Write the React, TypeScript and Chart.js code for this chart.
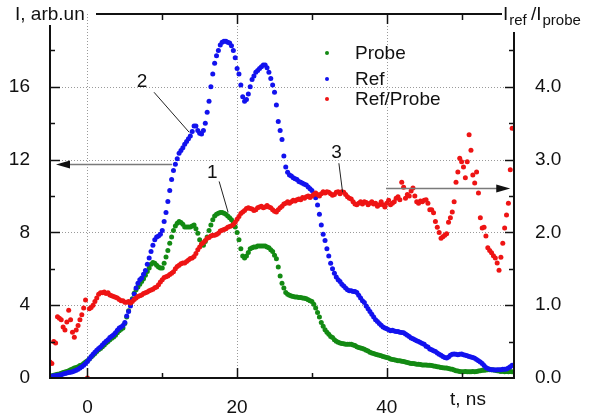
import React, { useEffect, useRef } from "react";
import { Chart, registerables } from "chart.js";

Chart.register(...registerables);

// ---- data ----
const T_START = -5; // ns
const T_STEP = 0.25; // ns

// Probe signal, arb. units (left axis)
const PROBE = [
  0.10, 0.12, 0.15, 0.18, 0.20, 0.22, 0.26, 0.30, 0.33, 0.36, 0.40, 0.45,
  0.50, 0.55, 0.58, 0.62, 0.68, 0.72, 0.80, 0.88, 0.95, 1.05, 1.15, 1.25,
  1.35, 1.45, 1.55, 1.62, 1.72, 1.82, 1.92, 2.00, 2.10, 2.18, 2.25, 2.35,
  2.48, 2.60, 2.68, 2.75, 3.00, 3.35, 3.70, 4.05, 4.35, 4.65, 4.85, 5.00,
  5.15, 5.30, 5.45, 5.65, 5.85, 6.05, 6.25, 6.35, 6.30, 6.20, 6.10, 6.05,
  6.05, 6.30, 6.65, 7.00, 7.40, 7.75, 8.10, 8.35, 8.50, 8.60, 8.55, 8.45,
  8.30, 8.30, 8.30, 8.30, 8.35, 8.40, 8.20, 7.95, 7.60, 7.35, 7.30, 7.50,
  7.75, 8.10, 8.40, 8.70, 8.90, 9.00, 9.05, 9.10, 9.10, 9.05, 9.00, 8.90,
  8.80, 8.70, 8.55, 8.30, 8.00, 7.60, 7.10, 6.70, 6.60, 6.70, 6.90, 7.10,
  7.15, 7.20, 7.20, 7.25, 7.25, 7.25, 7.25, 7.25, 7.20, 7.15, 7.05, 6.95,
  6.75, 6.55, 6.10, 5.60, 5.20, 4.95, 4.70, 4.60, 4.55, 4.50, 4.48, 4.45,
  4.45, 4.42, 4.42, 4.40, 4.38, 4.35, 4.30, 4.25, 4.20, 4.05, 3.85, 3.60,
  3.35, 3.05, 2.85, 2.65, 2.52, 2.40, 2.28, 2.22, 2.10, 2.02, 1.96, 1.92,
  1.90, 1.88, 1.86, 1.85, 1.85, 1.85, 1.82, 1.78, 1.72, 1.68, 1.65, 1.62,
  1.58, 1.52, 1.48, 1.42, 1.38, 1.35, 1.30, 1.28, 1.25, 1.22, 1.18, 1.15,
  1.12, 1.10, 1.05, 1.02, 1.00, 0.98, 0.95, 0.95, 0.92, 0.90, 0.88, 0.85,
  0.82, 0.80, 0.80, 0.78, 0.76, 0.75, 0.74, 0.72, 0.72, 0.72, 0.70, 0.70,
  0.68, 0.66, 0.65, 0.62, 0.60, 0.58, 0.57, 0.55, 0.55, 0.52, 0.50, 0.48,
  0.44, 0.40, 0.38, 0.36, 0.35, 0.35, 0.36, 0.35, 0.34, 0.35, 0.36, 0.35,
  0.36, 0.38, 0.40, 0.42, 0.42, 0.44, 0.45, 0.46, 0.45, 0.44, 0.42, 0.40,
  0.38, 0.36, 0.37, 0.35, 0.36, 0.35, 0.36, 0.35,
];

// Reference signal, arb. units (left axis)
const REF = [
  0.10, 0.10, 0.12, 0.13, 0.15, 0.16, 0.18, 0.22, 0.25, 0.27, 0.30, 0.32,
  0.35, 0.38, 0.42, 0.48, 0.55, 0.62, 0.70, 0.80, 0.90, 1.05, 1.18, 1.30,
  1.42, 1.52, 1.62, 1.70, 1.82, 1.92, 2.02, 2.10, 2.22, 2.30, 2.38, 2.48,
  2.62, 2.75, 2.80, 2.88, 3.05, 3.40, 3.65, 3.95, 4.30, 4.62, 4.95, 5.20,
  5.40, 5.50, 5.70, 5.90, 6.25, 6.60, 6.95, 7.30, 7.60, 7.75, 7.80, 7.90,
  8.10, 8.60, 9.10, 9.70, 10.30, 10.90, 11.40, 11.75, 12.05, 12.35, 12.50, 12.65,
  12.85, 13.00, 13.15, 13.30, 13.55, 13.85, 13.85, 13.60, 13.45, 13.40, 13.60, 14.00,
  14.60, 15.20, 16.00, 16.70, 17.30, 17.70, 18.00, 18.30, 18.45, 18.50, 18.50, 18.45,
  18.40, 18.25, 18.00, 17.60, 17.00, 16.70, 16.10, 15.45, 15.20, 15.30, 15.60, 16.00,
  16.40, 16.60, 16.80, 16.90, 17.00, 17.10, 17.20, 17.20, 17.05, 16.80, 16.45, 16.10,
  15.70, 15.00, 14.10, 13.60, 13.10, 12.20, 11.60, 11.30, 11.15, 11.10, 11.00, 10.95,
  10.90, 10.80, 10.75, 10.70, 10.65, 10.60, 10.50, 10.40, 10.30, 10.10, 9.90, 9.50,
  9.00, 8.40, 7.90, 7.55, 7.10, 6.70, 6.30, 6.00, 5.75, 5.55, 5.40, 5.30,
  5.15, 5.05, 4.95, 4.85, 4.80, 4.80, 4.75, 4.75, 4.70, 4.55, 4.40, 4.25,
  4.15, 3.95, 3.80, 3.65, 3.50, 3.35, 3.20, 3.10, 3.00, 2.90, 2.80, 2.75,
  2.70, 2.65, 2.60, 2.62, 2.58, 2.55, 2.55, 2.52, 2.50, 2.48, 2.42, 2.35,
  2.28, 2.20, 2.15, 2.10, 2.05, 2.00, 1.95, 1.90, 1.85, 1.75, 1.70, 1.60,
  1.55, 1.50, 1.45, 1.38, 1.30, 1.25, 1.18, 1.12, 1.10, 1.15, 1.25, 1.30,
  1.32, 1.30, 1.28, 1.30, 1.32, 1.28, 1.25, 1.22, 1.18, 1.15, 1.12, 1.08,
  1.02, 0.95, 0.88, 0.80, 0.68, 0.58, 0.52, 0.48, 0.46, 0.45, 0.44, 0.45,
  0.45, 0.46, 0.48, 0.48, 0.50, 0.55, 0.62, 0.70,
];

// Ratio Ref/Probe (right axis)
const RATIO = [
  0.22, 0.20, 0.50, 0.48, 0.84, 0.82, 0.80, 0.70, 0.66, 0.77, 0.93, 0.80,
  0.63, 0.56, 0.66, 0.72, 0.80, 0.87, 0.96, 1.07, 0.00, 0.95, 0.97, 1.00,
  1.05, 1.10, 1.15, 1.17, 1.17, 1.18, 1.16, 1.17, 1.14, 1.13, 1.12, 1.11,
  1.10, 1.08, 1.06, 1.06, 1.04, 1.04, 1.05, 1.03, 1.05, 1.08, 1.10, 1.12,
  1.13, 1.14, 1.16, 1.17, 1.18, 1.20, 1.21, 1.22, 1.24, 1.25, 1.28, 1.32,
  1.35, 1.38, 1.39, 1.40, 1.42, 1.44, 1.46, 1.50, 1.53, 1.55, 1.57, 1.58,
  1.58, 1.60, 1.62, 1.64, 1.65, 1.67, 1.71, 1.76, 1.80, 1.84, 1.86, 1.89,
  1.92, 1.93, 1.95, 1.96, 1.96, 1.97, 1.99, 2.02, 2.03, 2.04, 2.05, 2.07,
  2.08, 2.09, 2.11, 2.14, 2.18, 2.22, 2.26, 2.28, 2.30, 2.33, 2.34, 2.33,
  2.32, 2.30, 2.31, 2.34, 2.35, 2.36, 2.34, 2.35, 2.37, 2.35, 2.34, 2.31,
  2.29, 2.28, 2.31, 2.34, 2.36, 2.39, 2.40, 2.42, 2.40, 2.42, 2.44, 2.43,
  2.45, 2.46, 2.45, 2.48, 2.47, 2.49, 2.50, 2.48, 2.50, 2.52, 2.54, 2.52,
  2.50, 2.53, 2.56, 2.54, 2.56, 2.55, 2.53, 2.51, 2.52, 2.55, 2.56, 2.53,
  2.56, 2.55, 2.52, 2.49, 2.47, 2.46, 2.42, 2.39, 2.38, 2.40, 2.42, 2.39,
  2.42, 2.41, 2.38, 2.40, 2.42, 2.39, 2.40, 2.36, 2.38, 2.42, 2.38, 2.35,
  2.40, 2.44, 2.38, 2.40, 2.42, 2.47, 2.49, 2.45, 2.69, 2.62, 2.47, 2.52,
  2.50, 2.57, 2.61, 2.50, 2.42, 2.40, 2.43, 2.42, 2.44, 2.45, 2.40, 2.31,
  2.31, 2.27, 2.15, 2.07, 2.00, 1.92, 1.94, 1.96, 1.98, 2.14, 2.20, 2.28,
  2.42, 2.69, 2.83, 3.02, 2.97, 2.90, 2.75, 2.97, 3.34, 3.13, 2.79, 2.68,
  2.83, 2.54, 2.20, 2.06, 2.07, 1.95, 1.79, 1.75, 1.72, 1.68, 1.65, 1.58,
  1.48, 1.66, 1.85, 2.06, 2.24, 2.40, 2.86, 3.43,
];

const SERIES_NAMES = ["Probe", "Ref", "Ref/Probe"];
const X_MIN = -5;
const X_MAX = 57;
const X_LABEL_TICKS = [0, 20, 40];
const X_MINOR_TICKS = [10, 30, 50];
const Y_MIN = 0;
const Y_MAX = 20;
const Y_LABEL_TICKS = [0, 4, 8, 12, 16];
const Y_MINOR_TICKS = [2, 6, 10, 14, 18];
const R_MIN = 0;
const R_MAX = 5;
const R_LABEL_TICKS = [0, 1, 2, 3, 4];
const R_MINOR_TICKS = [0.5, 1.5, 2.5, 3.5, 4.5];

// annotations in data coordinates (left-axis units)
const NOTE_LABELS = ["2", "1", "3"];
const NOTE_TEXT_AT = [
  [7.3, 16.3],
  [16.7, 11.3],
  [33.3, 12.4],
];
const NOTE_LINE_FROM = [
  [8.9, 15.7],
  [17.6, 10.8],
  [33.6, 11.8],
];
const NOTE_LINE_TO = [
  [13.6, 13.5],
  [18.8, 9.1],
  [34.1, 10.2],
];
const ARROW_LEFT = { from: [11.3, 11.75], to: [-4.2, 11.75] };
const ARROW_RIGHT = { from: [39.9, 10.45], to: [56.5, 10.45] };

const COLORS = ["#138a13", "#1212ee", "#ee1414"];
const FONT = '"Liberation Sans", Arial, Helvetica, sans-serif';
const INK = "#111111";

const TIMES = PROBE.map((_, i) => T_START + i * T_STEP);

function drawArrow(ctx: CanvasRenderingContext2D, x1: number, y1: number, x2: number, y2: number) {
  const dir = Math.sign(x2 - x1);
  const headLen = 14;
  ctx.strokeStyle = "#7a7a7a";
  ctx.lineWidth = 1.6;
  ctx.beginPath();
  ctx.moveTo(x1, y1);
  ctx.lineTo(x2 - dir * headLen * 0.6, y2);
  ctx.stroke();
  ctx.fillStyle = "#111";
  ctx.beginPath();
  ctx.moveTo(x2, y2);
  ctx.lineTo(x2 - dir * headLen, y2 - 4);
  ctx.lineTo(x2 - dir * headLen, y2 + 4);
  ctx.closePath();
  ctx.fill();
}

const decorPlugin = {
  id: "decor",
  beforeDatasetsDraw(chart: any) {
    const { ctx, chartArea: a, scales } = chart;
    const x = scales.x;
    const y = scales.y;
    ctx.save();
    ctx.strokeStyle = "#9a9a9a";
    ctx.lineWidth = 1;
    ctx.setLineDash([1, 2]);
    for (const v of X_LABEL_TICKS) {
      const px = Math.round(x.getPixelForValue(v)) + 0.5;
      ctx.beginPath();
      ctx.moveTo(px, a.top);
      ctx.lineTo(px, a.bottom);
      ctx.stroke();
    }
    for (const v of Y_LABEL_TICKS) {
      if (v === Y_MIN) continue;
      const py = Math.round(y.getPixelForValue(v)) + 0.5;
      ctx.beginPath();
      ctx.moveTo(a.left, py);
      ctx.lineTo(a.right, py);
      ctx.stroke();
    }
    ctx.restore();
  },
  afterDraw(chart: any) {
    const { ctx, chartArea: a, scales } = chart;
    const x = scales.x;
    const y = scales.y;
    const r = scales.y1;
    const L = a.left;
    const R = a.right;
    const T = a.top;
    const B = a.bottom;
    ctx.save();

    // axis frame
    ctx.strokeStyle = INK;
    ctx.lineWidth = 2;
    ctx.setLineDash([]);
    ctx.beginPath();
    ctx.moveTo(L, 25);
    ctx.lineTo(L, B);
    ctx.lineTo(R, B);
    ctx.lineTo(R, 32);
    ctx.moveTo(96, T);
    ctx.lineTo(502, T);
    ctx.stroke();

    // ticks (inward)
    ctx.lineWidth = 1.5;
    const vt = (px: number, y0: number, len: number) => {
      ctx.beginPath();
      ctx.moveTo(px, y0);
      ctx.lineTo(px, y0 + len);
      ctx.stroke();
    };
    const ht = (py: number, x0: number, len: number) => {
      ctx.beginPath();
      ctx.moveTo(x0, py);
      ctx.lineTo(x0 + len, py);
      ctx.stroke();
    };
    for (const v of X_LABEL_TICKS) {
      const px = Math.round(x.getPixelForValue(v)) + 0.5;
      vt(px, B, -10);
      if (px > 96) vt(px, T, 10);
    }
    for (const v of X_MINOR_TICKS) {
      const px = Math.round(x.getPixelForValue(v)) + 0.5;
      vt(px, B, -5);
      vt(px, T, 6);
    }
    for (const v of Y_LABEL_TICKS) {
      if (v === Y_MIN) continue;
      ht(Math.round(y.getPixelForValue(v)) + 0.5, L, 10);
    }
    for (const v of Y_MINOR_TICKS) ht(Math.round(y.getPixelForValue(v)) + 0.5, L, 5);
    for (const v of R_LABEL_TICKS) {
      if (v === R_MIN) continue;
      ht(Math.round(r.getPixelForValue(v)) + 0.5, R, -9);
    }
    for (const v of R_MINOR_TICKS) ht(Math.round(r.getPixelForValue(v)) + 0.5, R, -5);

    // axis titles
    ctx.fillStyle = INK;
    ctx.textBaseline = "alphabetic";
    ctx.textAlign = "left";
    ctx.font = `19px ${FONT}`;
    ctx.fillText("I, arb.un", 15, 20);
    let cx = 503;
    ctx.fillText("I", cx, 20);
    cx += ctx.measureText("I").width + 1;
    ctx.font = `15px ${FONT}`;
    ctx.fillText("ref", cx, 25);
    cx += ctx.measureText("ref ").width;
    ctx.font = `19px ${FONT}`;
    ctx.fillText("/I", cx, 20);
    cx += ctx.measureText("/I").width + 1;
    ctx.font = `15px ${FONT}`;
    ctx.fillText("probe", cx, 25);
    ctx.font = `19px ${FONT}`;
    ctx.textBaseline = "middle";
    ctx.fillText("t, ns", 450, 400);

    // legend
    const legendRows = [54, 80, 100];
    SERIES_NAMES.forEach((name, i) => {
      ctx.fillStyle = COLORS[i];
      ctx.beginPath();
      ctx.arc(327, legendRows[i] - 1, 2, 0, Math.PI * 2);
      ctx.fill();
      ctx.fillStyle = INK;
      ctx.fillText(name, 355, legendRows[i]);
    });

    // annotations
    ctx.font = `19px ${FONT}`;
    ctx.textAlign = "center";
    ctx.textBaseline = "middle";
    NOTE_LABELS.forEach((lab, i) => {
      const [tx, ty] = NOTE_TEXT_AT[i];
      ctx.fillStyle = INK;
      ctx.fillText(lab, x.getPixelForValue(tx), y.getPixelForValue(ty));
      const [fx, fy] = NOTE_LINE_FROM[i];
      const [qx, qy] = NOTE_LINE_TO[i];
      ctx.strokeStyle = "#222";
      ctx.lineWidth = 1;
      ctx.beginPath();
      ctx.moveTo(x.getPixelForValue(fx), y.getPixelForValue(fy));
      ctx.lineTo(x.getPixelForValue(qx), y.getPixelForValue(qy));
      ctx.stroke();
    });
    for (const arr of [ARROW_LEFT, ARROW_RIGHT]) {
      drawArrow(
        ctx,
        x.getPixelForValue(arr.from[0]),
        Math.round(y.getPixelForValue(arr.from[1])) + 0.5,
        x.getPixelForValue(arr.to[0]),
        Math.round(y.getPixelForValue(arr.to[1])) + 0.5
      );
    }
    ctx.restore();
  },
};

export default function App() {
  const canvasRef = useRef<HTMLCanvasElement | null>(null);

  useEffect(() => {
    const canvas = canvasRef.current;
    if (!canvas) return;
    const mk = (vals: number[]) => vals.map((v, i) => ({ x: TIMES[i], y: v }));
    const tickFont = { family: FONT, size: 19 };
    const fitV = (w: number) => (s: any) => {
      s.width = w;
      s.paddingTop = 0;
      s.paddingBottom = 0;
    };
    const chart = new Chart(canvas, {
      type: "scatter",
      data: {
        datasets: [
          {
            label: SERIES_NAMES[0],
            data: mk(PROBE),
            yAxisID: "y",
            backgroundColor: COLORS[0],
            borderColor: COLORS[0],
            pointRadius: 2.5,
            pointBorderWidth: 0,
            order: 3,
          },
          {
            label: SERIES_NAMES[1],
            data: mk(REF),
            yAxisID: "y",
            backgroundColor: COLORS[1],
            borderColor: COLORS[1],
            pointRadius: 2.5,
            pointBorderWidth: 0,
            order: 2,
          },
          {
            label: SERIES_NAMES[2],
            data: mk(RATIO),
            yAxisID: "y1",
            backgroundColor: COLORS[2],
            borderColor: COLORS[2],
            pointRadius: 2.5,
            pointBorderWidth: 0,
            order: 1,
          },
        ],
      },
      options: {
        responsive: false,
        animation: false,
        devicePixelRatio: 1,
        layout: { padding: { top: 14, left: 0, right: 0, bottom: 0 } },
        plugins: { legend: { display: false }, tooltip: { enabled: false } },
        scales: {
          x: {
            type: "linear",
            position: "bottom",
            min: X_MIN,
            max: X_MAX,
            grid: { display: false },
            border: { display: false },
            ticks: {
              font: tickFont,
              color: INK,
              padding: 10,
              maxRotation: 0,
              autoSkip: false,
              callback: (v: any) => String(v),
            },
            afterBuildTicks: (s: any) => {
              s.ticks = X_LABEL_TICKS.map((value) => ({ value }));
            },
            afterFit: (s: any) => {
              s.height = 38;
              s.paddingLeft = 0;
              s.paddingRight = 0;
            },
          },
          y: {
            type: "linear",
            position: "left",
            min: Y_MIN,
            max: Y_MAX,
            grid: { display: false },
            border: { display: false },
            ticks: {
              font: tickFont,
              color: INK,
              padding: 12,
              callback: (v: any) => String(v),
            },
            afterBuildTicks: (s: any) => {
              s.ticks = Y_LABEL_TICKS.map((value) => ({ value }));
            },
            afterFit: fitV(50),
          },
          y1: {
            type: "linear",
            position: "right",
            min: R_MIN,
            max: R_MAX,
            grid: { display: false },
            border: { display: false },
            ticks: {
              font: tickFont,
              color: INK,
              padding: 13,
              callback: (v: any) => Number(v).toFixed(1),
            },
            afterBuildTicks: (s: any) => {
              s.ticks = R_LABEL_TICKS.map((value) => ({ value }));
            },
            afterFit: fitV(84),
          },
        },
      },
      plugins: [decorPlugin],
    } as any);
    return () => chart.destroy();
  }, []);

  return (
    <div
      style={{
        position: "fixed",
        left: 0,
        top: 0,
        width: 598,
        height: 416,
        background: "#ffffff",
      }}
    >
      <canvas ref={canvasRef} width={598} height={416} style={{ display: "block" }} />
    </div>
  );
}
